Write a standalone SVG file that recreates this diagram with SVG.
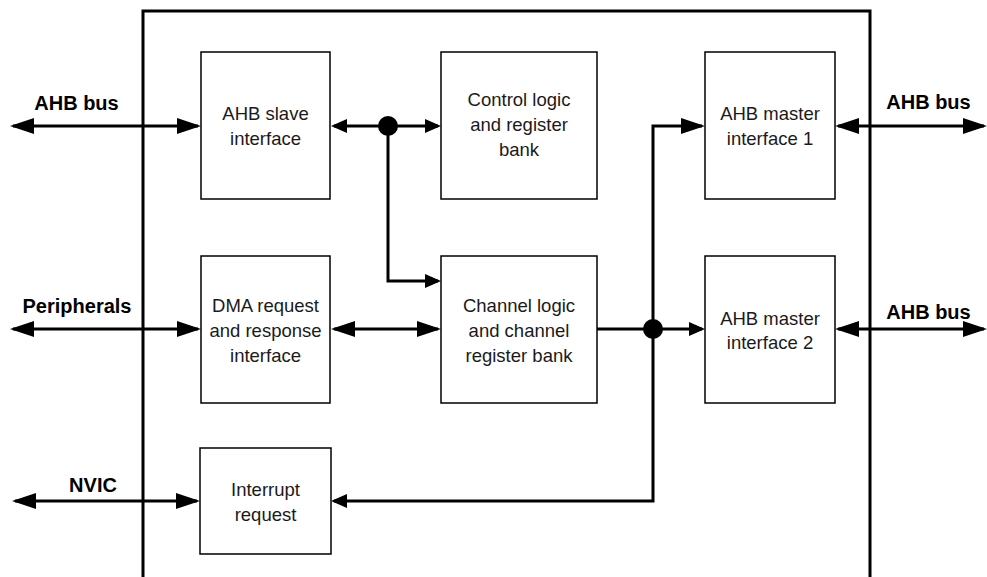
<svg xmlns="http://www.w3.org/2000/svg" width="987" height="577" viewBox="0 0 987 577">
<style>
.box{fill:#fff;stroke:#000;stroke-width:1.5}
.t{font-family:"Liberation Sans",Arial,sans-serif;font-size:18.5px;text-anchor:middle;fill:#1a1a1a}
.lbl{font-family:"Liberation Sans",Arial,sans-serif;font-size:20px;font-weight:bold;text-anchor:middle;fill:#000}
.w{fill:none;stroke:#000;stroke-width:3}
.big{marker-start:url(#hb);marker-end:url(#hb)}
</style>
<defs>
<marker id="hb" viewBox="0 0 24 16" refX="21" refY="8" markerWidth="24" markerHeight="16" markerUnits="userSpaceOnUse" orient="auto-start-reverse"><path d="M0,0 L24,8 L0,16 z" fill="#000"/></marker>
<marker id="hs" viewBox="0 0 16 14" refX="13" refY="7" markerWidth="16" markerHeight="14" markerUnits="userSpaceOnUse" orient="auto-start-reverse"><path d="M0,0 L16,7 L0,14 z" fill="#000"/></marker>
</defs>
<rect width="987" height="577" fill="#fff"/>
<path id="frame" class="w" d="M143,580 V11 H870 V580"/>
<g id="slave"><rect class="box" x="201" y="52" width="129" height="147"/><text class="t" x="265.5" y="120">AHB slave</text><text class="t" x="265.5" y="145">interface</text></g>
<g id="control"><rect class="box" x="441" y="52" width="156" height="147"/><text class="t" x="519" y="106">Control logic</text><text class="t" x="519" y="131">and register</text><text class="t" x="519" y="156">bank</text></g>
<g id="master1"><rect class="box" x="705" y="52" width="130" height="147"/><text class="t" x="770" y="120">AHB master</text><text class="t" x="770" y="145">interface 1</text></g>
<g id="dma"><rect class="box" x="201" y="256" width="129" height="147"/><text class="t" x="265.5" y="312">DMA request</text><text class="t" x="265.5" y="337">and response</text><text class="t" x="265.5" y="362">interface</text></g>
<g id="channel"><rect class="box" x="441" y="256" width="156" height="147"/><text class="t" x="519" y="312">Channel logic</text><text class="t" x="519" y="337">and channel</text><text class="t" x="519" y="362">register bank</text></g>
<g id="master2"><rect class="box" x="705" y="256" width="130" height="147"/><text class="t" x="770" y="325">AHB master</text><text class="t" x="770" y="349">interface 2</text></g>
<g id="interrupt"><rect class="box" x="200" y="448" width="131" height="106"/><text class="t" x="265.5" y="496">Interrupt</text><text class="t" x="265.5" y="521">request</text></g>
<g id="connectors">
<path class="w big" d="M13,126 H198"/>
<path class="w" d="M334,126 H438" marker-start="url(#hs)" marker-end="url(#hs)"/>
<path class="w" d="M388,126 V281 H438" marker-end="url(#hs)"/>
<circle cx="388" cy="126" r="10" fill="#000"/>
<path class="w big" d="M13,329 H198"/>
<path class="w big" d="M334,329 H438"/>
<path class="w" d="M597,329 H702" marker-end="url(#hs)"/>
<circle cx="653" cy="329" r="10" fill="#000"/>
<path class="w" d="M702,126 H653 V501 H334" marker-start="url(#hb)" marker-end="url(#hs)"/>
<path class="w big" d="M15,501 H197"/>
<path class="w big" d="M838,126 H984"/>
<path class="w big" d="M838,329 H984"/>
</g>
<g id="labels">
<text class="lbl" x="76.5" y="110">AHB bus</text>
<text class="lbl" x="77" y="313">Peripherals</text>
<text class="lbl" x="93" y="492">NVIC</text>
<text class="lbl" x="928.5" y="109">AHB bus</text>
<text class="lbl" x="928.5" y="319">AHB bus</text>
</g>
</svg>
